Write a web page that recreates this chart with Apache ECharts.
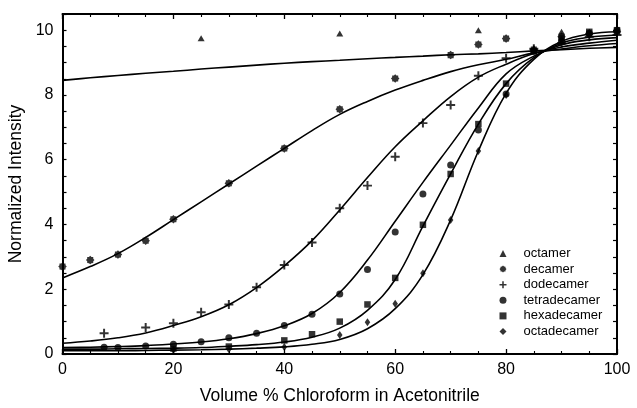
<!DOCTYPE html>
<html>
<head>
<meta charset="utf-8">
<script src="https://cdn.jsdelivr.net/npm/echarts@6/dist/echarts.min.js"></script>
<style>
  html, body { margin: 0; padding: 0; background: #fff; }
  #chart { width: 637px; height: 408px; }
</style>
</head>
<body>
<div id="chart"></div>
<script>
// Measured intensities, [volume % chloroform, normalized intensity]
const octamerPts = [[25, 9.75], [50, 9.9], [75, 10.0], [90, 9.95], [95, 9.95], [100, 10.0]];
const decamerPts = [[0, 2.7], [5, 2.9], [10, 3.07], [15, 3.5], [20, 4.16], [30, 5.27], [40, 6.35],
  [50, 7.56], [60, 8.51], [70, 9.23], [75, 9.56], [80, 9.74], [85, 9.4], [90, 9.8], [95, 9.9], [100, 9.95]];
const dodecamerPts = [[7.5, 0.64], [15, 0.82], [20, 0.95], [25, 1.29], [30, 1.53], [35, 2.06], [40, 2.75],
  [45, 3.44], [50, 4.5], [55, 5.2], [60, 6.09], [65, 7.13], [70, 7.69], [75, 8.59], [80, 9.13],
  [85, 9.43], [90, 9.6], [95, 9.8], [100, 9.85]];
const tetradecamerPts = [[7.5, 0.21], [10, 0.2], [15, 0.25], [20, 0.3], [25, 0.38], [30, 0.5], [35, 0.64],
  [40, 0.88], [45, 1.23], [50, 1.85], [55, 2.61], [60, 3.77], [65, 4.94], [70, 5.84], [75, 6.92],
  [80, 8.03], [85, 9.35], [90, 9.65], [95, 9.9], [100, 10.0]];
const hexadecamerPts = [[20, 0.17], [30, 0.23], [40, 0.42], [45, 0.61], [50, 1.0], [55, 1.53], [60, 2.35],
  [65, 3.99], [70, 5.56], [75, 7.1], [80, 8.35], [85, 9.35], [90, 9.75], [95, 9.95], [100, 10.0]];
const octadecamerPts = [[20, 0.12], [30, 0.15], [40, 0.22], [50, 0.59], [55, 0.98], [60, 1.55], [65, 2.49],
  [70, 4.14], [75, 6.27], [80, 8.0], [85, 9.4], [90, 9.7], [95, 9.85], [100, 9.95]];

// Fitted curves, sampled every 5 % chloroform
const fitX = [0, 5, 10, 15, 20, 25, 30, 35, 40, 45, 50, 55, 60, 65, 70, 75, 80, 85, 90, 95, 100];
const octamerFit = [8.45, 8.53, 8.6, 8.67, 8.73, 8.8, 8.86, 8.92, 8.98, 9.03, 9.07, 9.12, 9.16, 9.2, 9.24, 9.27, 9.31, 9.36, 9.4, 9.44, 9.47];
const decamerFit = [2.35, 2.7, 3.1, 3.6, 4.15, 4.7, 5.25, 5.8, 6.35, 6.9, 7.4, 7.8, 8.15, 8.45, 8.72, 8.93, 9.1, 9.3, 9.42, 9.52, 9.59];
const dodecamerFit = [0.33, 0.4, 0.5, 0.65, 0.88, 1.15, 1.52, 2.05, 2.72, 3.5, 4.45, 5.45, 6.4, 7.2, 7.95, 8.55, 8.95, 9.28, 9.48, 9.6, 9.69];
const tetradecamerFit = [0.2, 0.21, 0.23, 0.26, 0.31, 0.37, 0.47, 0.63, 0.87, 1.25, 1.9, 2.9, 4.1, 5.3, 6.45, 7.6, 8.65, 9.2, 9.55, 9.7, 9.77];
const hexadecamerFit = [0.15, 0.15, 0.16, 0.17, 0.18, 0.2, 0.24, 0.29, 0.37, 0.52, 0.8, 1.35, 2.3, 3.95, 5.56, 7.1, 8.35, 9.15, 9.6, 9.78, 9.85];
const octadecamerFit = [0.1, 0.1, 0.1, 0.11, 0.12, 0.13, 0.15, 0.18, 0.22, 0.3, 0.45, 0.78, 1.4, 2.45, 4.14, 6.27, 8.05, 9.1, 9.65, 9.88, 9.95];

const seriesNames = ['octamer', 'decamer', 'dodecamer', 'tetradecamer', 'hexadecamer', 'octadecamer'];
const xTitle = 'Volume % Chloroform in Acetonitrile';
const yTitle = 'Normalized Intensity';

const FONT = '"Liberation Sans", Arial, Helvetica, sans-serif';
// chunky eight-pointed asterisk for the decamer marks
const STAR = 'path://M10,0 L7.2,3 L7.07,7.07 L3,7.2 L0,10 L-3,7.2 L-7.07,7.07 L-7.2,3 L-10,0 L-7.2,-3 L-7.07,-7.07 L-3,-7.2 L0,-10 L3,-7.2 L7.07,-7.07 L7.2,-3 Z';
const PLUS = 'path://M-1.1,-5 H1.1 V-1.1 H5 V1.1 H1.1 V5 H-1.1 V1.1 H-5 V-1.1 H-1.1 Z';

const markers = [
  { symbol: 'triangle', size: [7, 6] },
  { symbol: STAR, size: 8.5 },
  { symbol: PLUS, size: 9 },
  { symbol: 'circle', size: 7 },
  { symbol: 'rect', size: 6.5 },
  { symbol: 'diamond', size: [5.5, 8] }
];
const pointSets = [octamerPts, decamerPts, dodecamerPts, tetradecamerPts, hexadecamerPts, octadecamerPts];
const fitSets = [octamerFit, decamerFit, dodecamerFit, tetradecamerFit, hexadecamerFit, octadecamerFit];

const series = [];
fitSets.forEach(function (ys) {
  series.push({
    type: 'line',
    data: fitX.map(function (x, i) { return [x, ys[i]]; }),
    smooth: 0.4,
    showSymbol: false,
    silent: true,
    lineStyle: { color: '#000', width: 1.6 },
    z: 2
  });
});
pointSets.forEach(function (pts, i) {
  series.push({
    name: seriesNames[i],
    type: 'scatter',
    data: pts,
    symbol: markers[i].symbol,
    symbolSize: markers[i].size,
    symbolKeepAspect: true,
    itemStyle: { color: '#000' },
    z: 3
  });
});

function axisBase() {
  return {
    type: 'value',
    axisLine: { show: true, onZero: false, lineStyle: { color: '#000', width: 2 } },
    axisTick: { show: true, inside: true, length: 5, lineStyle: { color: '#000', width: 1.3 } },
    minorTick: { show: true, splitNumber: 4, length: 3, lineStyle: { color: '#000', width: 1.1 } },
    splitLine: { show: false },
    minorSplitLine: { show: false }
  };
}

const xBottom = Object.assign(axisBase(), {
  min: 0, max: 100, interval: 20, position: 'bottom',
  axisLabel: { color: '#000', fontSize: 16, fontFamily: FONT, margin: 8 },
  name: xTitle, nameLocation: 'middle', nameGap: 33,
  nameTextStyle: { color: '#000', fontSize: 17.5, fontFamily: FONT }
});
const xTop = Object.assign(axisBase(), {
  min: 0, max: 100, interval: 20, position: 'top',
  axisLabel: { show: false }
});
const yLeft = Object.assign(axisBase(), {
  min: 0, max: 10.5, interval: 0.5, position: 'left',
  minorTick: { show: false },
  axisTick: { show: true, inside: true, length: 4, lineStyle: { color: '#000', width: 1.2 } },
  axisLabel: {
    color: '#000', fontSize: 16, fontFamily: FONT, margin: 9,
    formatter: function (v) { return (Math.abs(v % 2) < 1e-9) ? String(v) : ''; }
  },
  name: yTitle, nameLocation: 'middle', nameGap: 31,
  nameTextStyle: { color: '#000', fontSize: 17.5, fontFamily: FONT }
});
const yRight = Object.assign(axisBase(), {
  min: 0, max: 10.5, interval: 0.5, position: 'right',
  minorTick: { show: false },
  axisTick: { show: true, inside: true, length: 4, lineStyle: { color: '#000', width: 1.2 } },
  axisLabel: { show: false }
});

const chart = echarts.init(document.getElementById('chart'), null, { renderer: 'canvas' });
chart.setOption({
  backgroundColor: '#fff',
  animation: false,
  grid: { left: 62.5, right: 20, top: 14, bottom: 54, outerBoundsMode: 'none' },
  xAxis: [xBottom, xTop],
  yAxis: [yLeft, yRight],
  legend: {
    orient: 'vertical',
    left: 499.5,
    top: 247,
    padding: 0,
    itemWidth: 7,
    itemHeight: 7,
    itemGap: 2.6,
    selectedMode: false,
    textStyle: { color: '#000', fontSize: 13, fontFamily: FONT, padding: [0, 0, 0, 12] },
    data: seriesNames.map(function (n, i) {
      return { name: n, icon: markers[i].symbol, itemStyle: { color: '#000' } };
    })
  },
  series: series
});
</script>
</body>
</html>
